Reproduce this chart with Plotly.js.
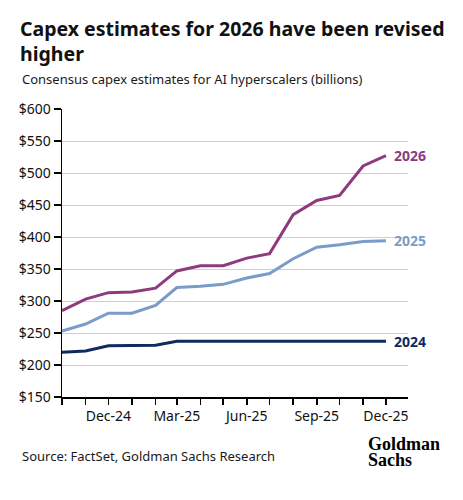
<!DOCTYPE html>
<html>
<head>
<meta charset="utf-8">
<script src="https://cdn.plot.ly/plotly-3.0.1.min.js"></script>
<style>
html,body{margin:0;padding:0;background:#fff;}
#chart{width:463px;height:500px;}
</style>
</head>
<body>
<div id="chart"></div>
<script>
const months = ["2024-10-01","2024-11-01","2024-12-01","2025-01-01","2025-02-01","2025-03-01","2025-04-01","2025-05-01","2025-06-01","2025-07-01","2025-08-01","2025-09-01","2025-10-01","2025-11-01","2025-12-01"];
const capex2026 = [285, 303, 313, 314, 320, 347, 355, 355, 367, 374, 435, 457, 465, 511, 527];
const capex2025 = [253, 264, 281, 281, 293, 321, 323, 326, 336, 343, 366, 384, 388, 393, 394];
const capex2024 = [220, 222, 230, 231, 231, 237, 237, 237, 237, 237, 237, 237, 237, 237, 237];
const seriesNames = ["2026", "2025", "2024"];
const colors = ["#8e3a7f", "#7a9cc8", "#0f2a5c"];
const yTickVals = [150, 200, 250, 300, 350, 400, 450, 500, 550, 600];
const yTickText = yTickVals.map(v => "$" + v);
const xTickVals = ["2024-12-01","2025-03-01","2025-06-01","2025-09-01","2025-12-01"];

const FONT = "Noto Sans, Lato, sans-serif";
const LOGO_FONT = "Liberation Serif, serif";
const seriesData = [capex2026, capex2025, capex2024];

const traces = seriesData.map((vals, i) => ({
  type: "scatter", mode: "lines",
  x: months, y: vals, name: seriesNames[i],
  line: {color: colors[i], width: 3},
  hoverinfo: "skip"
}));

const annotations = seriesData.map((vals, i) => ({
  x: months[months.length - 1], y: vals[vals.length - 1],
  xref: "x", yref: "y", xanchor: "left", yanchor: "middle",
  xshift: 6, showarrow: false,
  text: "<b>" + seriesNames[i] + "</b>",
  font: {family: FONT, size: 14, color: colors[i]}
}));

const PX = 346; // plot width in px
annotations.push(
  {xref: "paper", yref: "paper", x: (20 - 62) / PX, y: 1.0, xanchor: "left", yanchor: "bottom", yshift: 19,
   showarrow: false, align: "left",
   text: "Consensus capex estimates for AI hyperscalers (billions)",
   font: {family: FONT, size: 13, color: "#1a1a1a"}},
  {xref: "paper", yref: "paper", x: (20 - 62) / PX, y: 0, xanchor: "left", yanchor: "top", yshift: -48,
   showarrow: false, align: "left",
   text: "Source: FactSet, Goldman Sachs Research",
   font: {family: FONT, size: 13, color: "#1a1a1a"}},
  {xref: "paper", yref: "paper", x: (366 - 62) / PX, y: 0, xanchor: "left", yanchor: "top", yshift: -35,
   showarrow: false, align: "left",
   text: "<b>Goldman</b>",
   font: {family: LOGO_FONT, size: 18, color: "#000"}},
  {xref: "paper", yref: "paper", x: (366 - 62) / PX, y: 0, xanchor: "left", yanchor: "top", yshift: -51,
   showarrow: false, align: "left",
   text: "<b>Sachs</b>",
   font: {family: LOGO_FONT, size: 18, color: "#000"}}
);

const layout = {
  width: 463, height: 500,
  margin: {l: 62, r: 55, t: 109, b: 103},
  paper_bgcolor: "#fff", plot_bgcolor: "#fff",
  showlegend: false,
  title: {
    text: "<b>Capex estimates for 2026 have been revised<br>higher</b>",
    xref: "container", x: 20 / 463, xanchor: "left",
    yref: "container", y: 1 - 36 / 500, yanchor: "middle",
    font: {family: FONT, size: 19.5, color: "#111"}
  },
  xaxis: {
    type: "date",
    range: ["2024-10-01", "2025-12-30"],
    tickvals: xTickVals,
    tickformat: "%b-%y",
    ticks: "outside", ticklen: 6, tickwidth: 1.5, tickcolor: "#000",
    minor: {dtick: "M1", tick0: "2024-10-01", ticks: "outside", ticklen: 6, tickwidth: 1.5, tickcolor: "#000", showgrid: false},
    showline: true, linecolor: "#000", linewidth: 1.5,
    showgrid: false, zeroline: false,
    tickfont: {family: FONT, size: 14, color: "#111"},
    fixedrange: true
  },
  yaxis: {
    range: [150, 600],
    tickvals: yTickVals,
    ticktext: yTickText,
    ticks: "outside", ticklen: 7, tickwidth: 1.5, tickcolor: "#000",
    showline: true, linecolor: "#000", linewidth: 1.5,
    showgrid: true, gridcolor: "#cfcfcf", gridwidth: 1,
    zeroline: false,
    tickfont: {family: FONT, size: 14, color: "#111"},
    fixedrange: true
  },
  annotations: annotations
};

Plotly.newPlot("chart", traces, layout, {displayModeBar: false, staticPlot: true});
</script>
</body>
</html>
